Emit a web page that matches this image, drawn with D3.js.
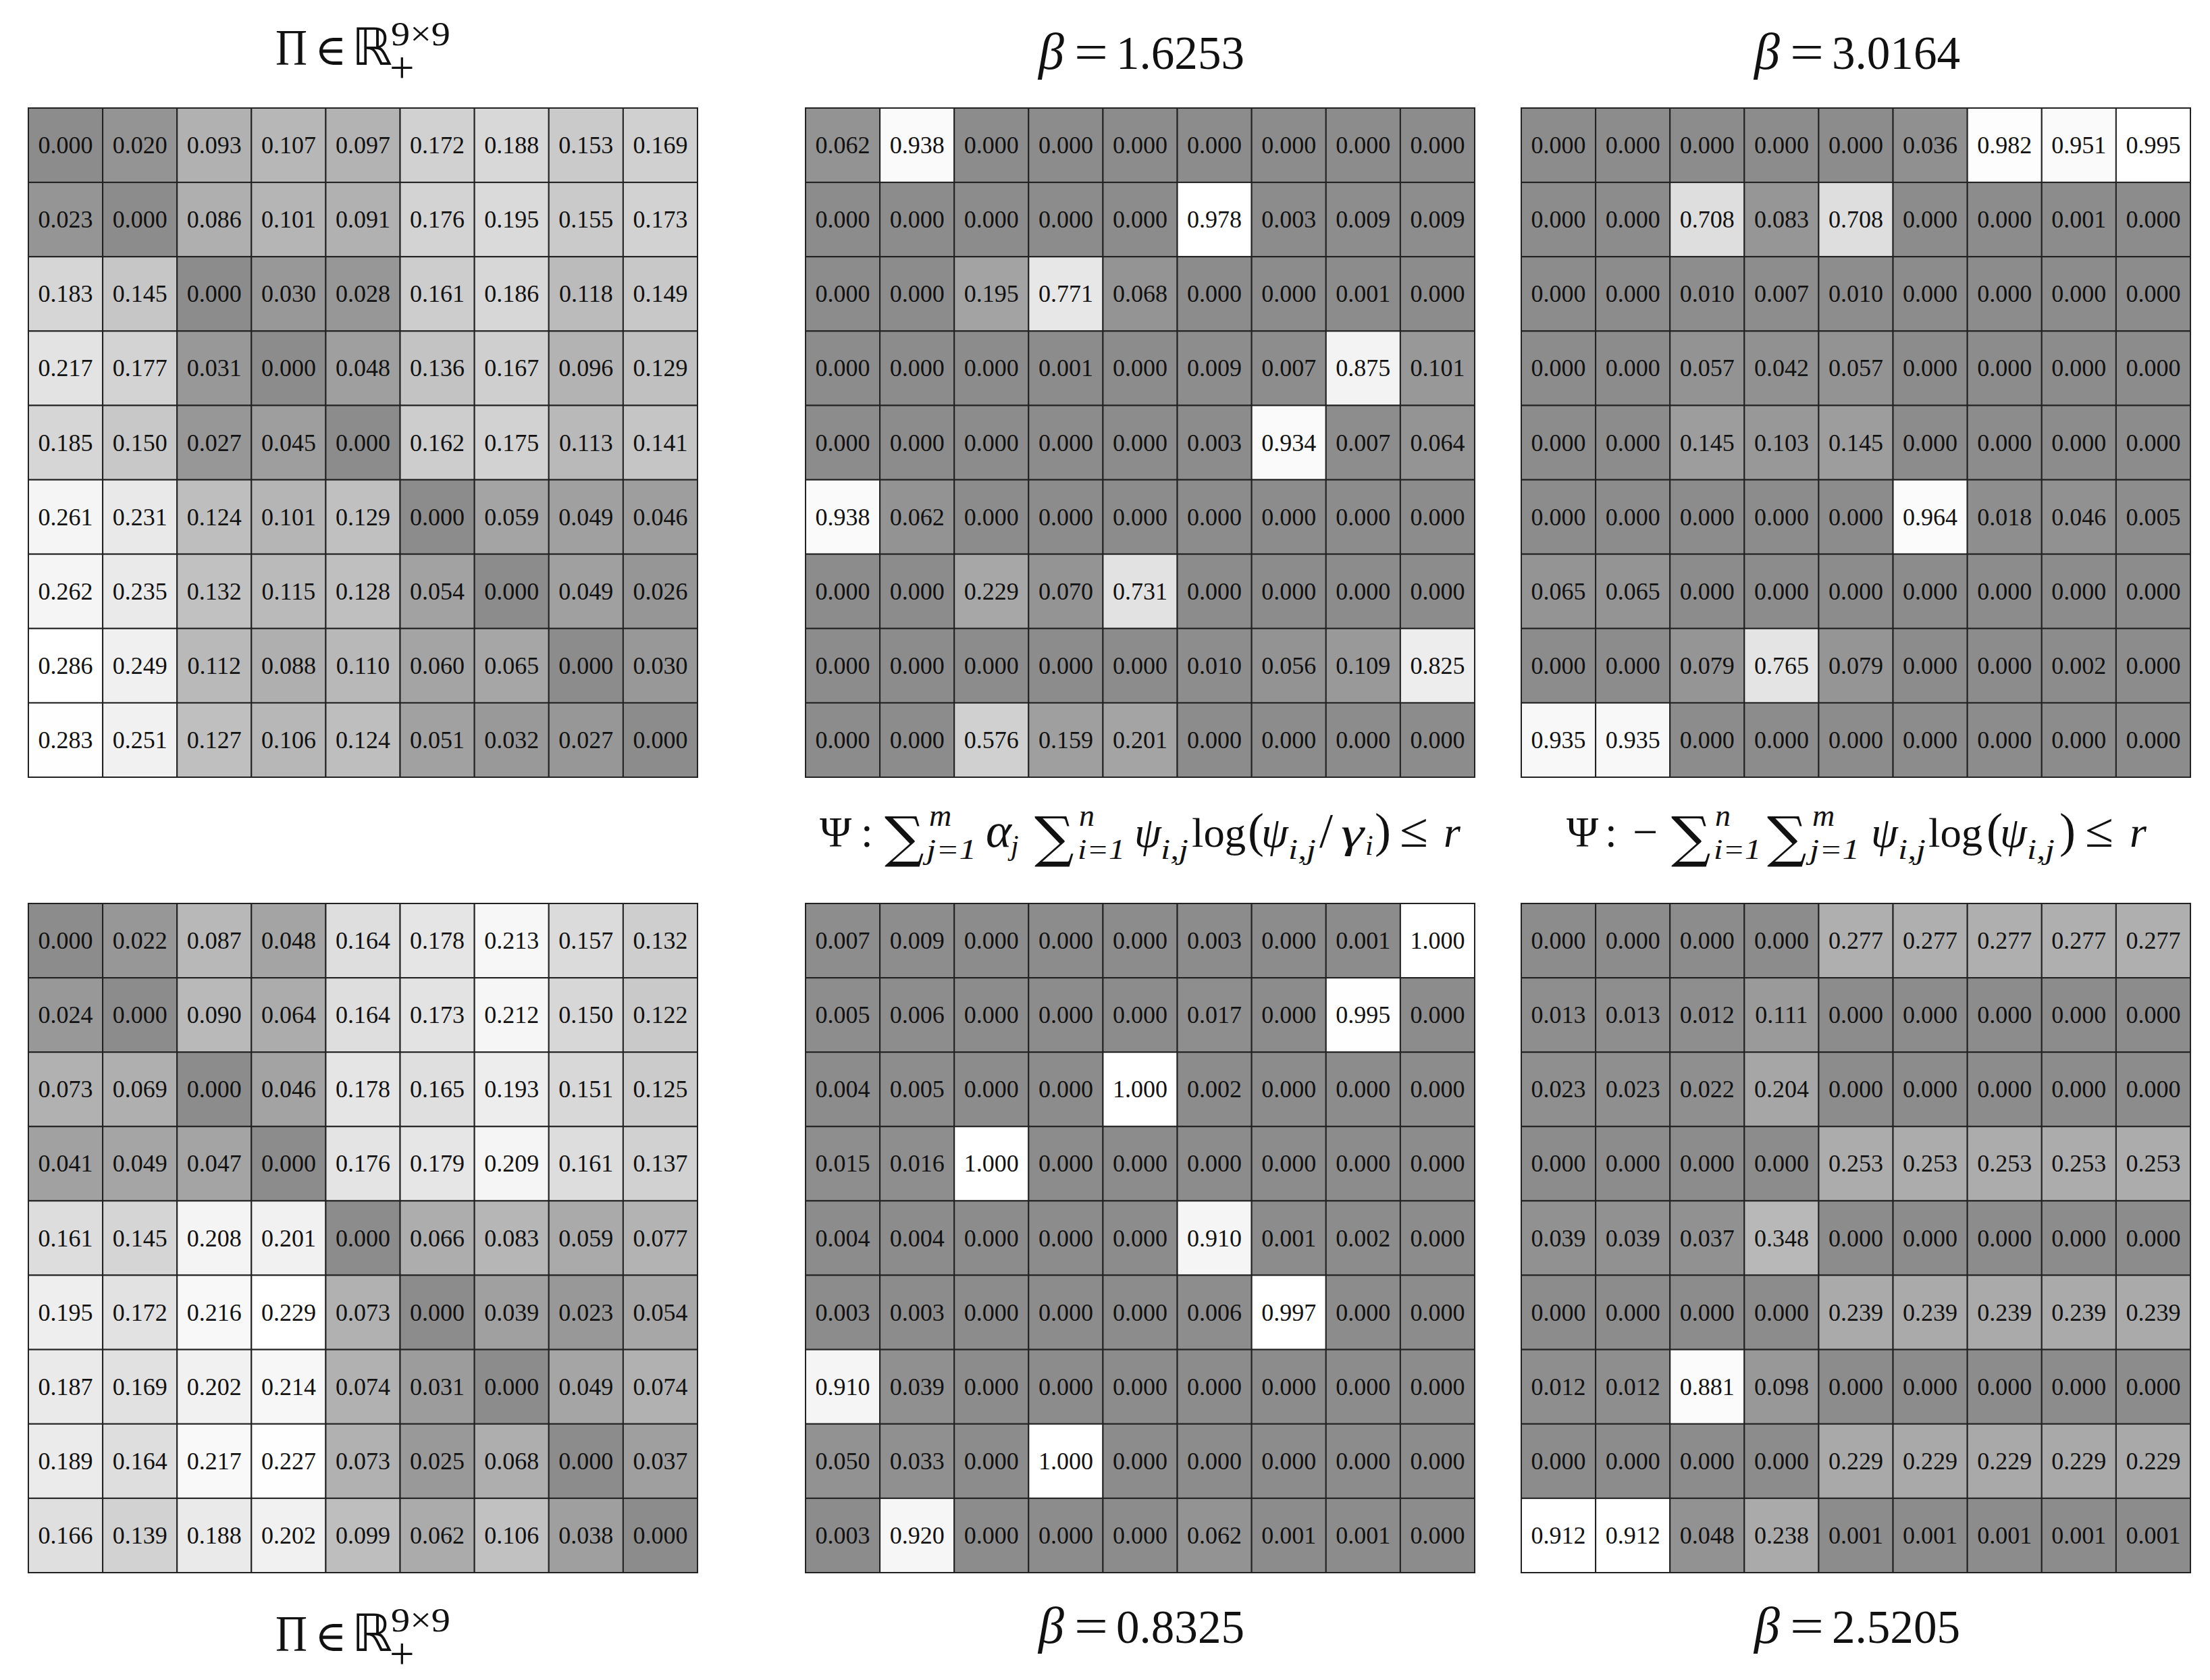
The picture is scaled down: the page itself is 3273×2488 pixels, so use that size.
<!DOCTYPE html>
<html>
<head>
<meta charset="utf-8">
<script src="https://cdn.jsdelivr.net/npm/d3@7"></script>
<style>
  html, body { margin: 0; background: #fff; }
  text { font-family: "Liberation Serif", "DejaVu Serif", serif; fill: #111; }
</style>
</head>
<body>
<svg id="chart" width="3273" height="2488"></svg>
<script>
const labels = [0, 1, 2, 3, 4, 5, 6, 7, 8];

const piTop = [
    [0.000, 0.020, 0.093, 0.107, 0.097, 0.172, 0.188, 0.153, 0.169],
    [0.023, 0.000, 0.086, 0.101, 0.091, 0.176, 0.195, 0.155, 0.173],
    [0.183, 0.145, 0.000, 0.030, 0.028, 0.161, 0.186, 0.118, 0.149],
    [0.217, 0.177, 0.031, 0.000, 0.048, 0.136, 0.167, 0.096, 0.129],
    [0.185, 0.150, 0.027, 0.045, 0.000, 0.162, 0.175, 0.113, 0.141],
    [0.261, 0.231, 0.124, 0.101, 0.129, 0.000, 0.059, 0.049, 0.046],
    [0.262, 0.235, 0.132, 0.115, 0.128, 0.054, 0.000, 0.049, 0.026],
    [0.286, 0.249, 0.112, 0.088, 0.110, 0.060, 0.065, 0.000, 0.030],
    [0.283, 0.251, 0.127, 0.106, 0.124, 0.051, 0.032, 0.027, 0.000]
];
const beta16253 = [
    [0.062, 0.938, 0.000, 0.000, 0.000, 0.000, 0.000, 0.000, 0.000],
    [0.000, 0.000, 0.000, 0.000, 0.000, 0.978, 0.003, 0.009, 0.009],
    [0.000, 0.000, 0.195, 0.771, 0.068, 0.000, 0.000, 0.001, 0.000],
    [0.000, 0.000, 0.000, 0.001, 0.000, 0.009, 0.007, 0.875, 0.101],
    [0.000, 0.000, 0.000, 0.000, 0.000, 0.003, 0.934, 0.007, 0.064],
    [0.938, 0.062, 0.000, 0.000, 0.000, 0.000, 0.000, 0.000, 0.000],
    [0.000, 0.000, 0.229, 0.070, 0.731, 0.000, 0.000, 0.000, 0.000],
    [0.000, 0.000, 0.000, 0.000, 0.000, 0.010, 0.056, 0.109, 0.825],
    [0.000, 0.000, 0.576, 0.159, 0.201, 0.000, 0.000, 0.000, 0.000]
];
const beta30164 = [
    [0.000, 0.000, 0.000, 0.000, 0.000, 0.036, 0.982, 0.951, 0.995],
    [0.000, 0.000, 0.708, 0.083, 0.708, 0.000, 0.000, 0.001, 0.000],
    [0.000, 0.000, 0.010, 0.007, 0.010, 0.000, 0.000, 0.000, 0.000],
    [0.000, 0.000, 0.057, 0.042, 0.057, 0.000, 0.000, 0.000, 0.000],
    [0.000, 0.000, 0.145, 0.103, 0.145, 0.000, 0.000, 0.000, 0.000],
    [0.000, 0.000, 0.000, 0.000, 0.000, 0.964, 0.018, 0.046, 0.005],
    [0.065, 0.065, 0.000, 0.000, 0.000, 0.000, 0.000, 0.000, 0.000],
    [0.000, 0.000, 0.079, 0.765, 0.079, 0.000, 0.000, 0.002, 0.000],
    [0.935, 0.935, 0.000, 0.000, 0.000, 0.000, 0.000, 0.000, 0.000]
];
const piBottom = [
    [0.000, 0.022, 0.087, 0.048, 0.164, 0.178, 0.213, 0.157, 0.132],
    [0.024, 0.000, 0.090, 0.064, 0.164, 0.173, 0.212, 0.150, 0.122],
    [0.073, 0.069, 0.000, 0.046, 0.178, 0.165, 0.193, 0.151, 0.125],
    [0.041, 0.049, 0.047, 0.000, 0.176, 0.179, 0.209, 0.161, 0.137],
    [0.161, 0.145, 0.208, 0.201, 0.000, 0.066, 0.083, 0.059, 0.077],
    [0.195, 0.172, 0.216, 0.229, 0.073, 0.000, 0.039, 0.023, 0.054],
    [0.187, 0.169, 0.202, 0.214, 0.074, 0.031, 0.000, 0.049, 0.074],
    [0.189, 0.164, 0.217, 0.227, 0.073, 0.025, 0.068, 0.000, 0.037],
    [0.166, 0.139, 0.188, 0.202, 0.099, 0.062, 0.106, 0.038, 0.000]
];
const beta08325 = [
    [0.007, 0.009, 0.000, 0.000, 0.000, 0.003, 0.000, 0.001, 1.000],
    [0.005, 0.006, 0.000, 0.000, 0.000, 0.017, 0.000, 0.995, 0.000],
    [0.004, 0.005, 0.000, 0.000, 1.000, 0.002, 0.000, 0.000, 0.000],
    [0.015, 0.016, 1.000, 0.000, 0.000, 0.000, 0.000, 0.000, 0.000],
    [0.004, 0.004, 0.000, 0.000, 0.000, 0.910, 0.001, 0.002, 0.000],
    [0.003, 0.003, 0.000, 0.000, 0.000, 0.006, 0.997, 0.000, 0.000],
    [0.910, 0.039, 0.000, 0.000, 0.000, 0.000, 0.000, 0.000, 0.000],
    [0.050, 0.033, 0.000, 1.000, 0.000, 0.000, 0.000, 0.000, 0.000],
    [0.003, 0.920, 0.000, 0.000, 0.000, 0.062, 0.001, 0.001, 0.000]
];
const beta25205 = [
    [0.000, 0.000, 0.000, 0.000, 0.277, 0.277, 0.277, 0.277, 0.277],
    [0.013, 0.013, 0.012, 0.111, 0.000, 0.000, 0.000, 0.000, 0.000],
    [0.023, 0.023, 0.022, 0.204, 0.000, 0.000, 0.000, 0.000, 0.000],
    [0.000, 0.000, 0.000, 0.000, 0.253, 0.253, 0.253, 0.253, 0.253],
    [0.039, 0.039, 0.037, 0.348, 0.000, 0.000, 0.000, 0.000, 0.000],
    [0.000, 0.000, 0.000, 0.000, 0.239, 0.239, 0.239, 0.239, 0.239],
    [0.012, 0.012, 0.881, 0.098, 0.000, 0.000, 0.000, 0.000, 0.000],
    [0.000, 0.000, 0.000, 0.000, 0.229, 0.229, 0.229, 0.229, 0.229],
    [0.912, 0.912, 0.048, 0.238, 0.001, 0.001, 0.001, 0.001, 0.001]
];

const svg = d3.select("#chart");

// panel origins, every panel is the same size
const cols = [42, 1193, 2253];
const rows = [160, 1338];
const size = 991;

const xBand = d3.scaleBand().domain(labels).range([0, size]);
const yBand = d3.scaleBand().domain(labels).range([0, size]);

function drawMatrix(matrix, left, top) {
    const maxValue = d3.max(matrix.flat());
    const shade = d3.scaleLinear().domain([0, maxValue]).range([140, 255]);

    const panel = svg.append("g").attr("transform", `translate(${left},${top})`);

    const cells = panel.selectAll("g")
        .data(matrix.flatMap((row, r) => row.map((value, c) => ({ r, c, value }))))
        .enter()
        .append("g");

    cells.append("rect")
        .attr("x", d => xBand(d.c))
        .attr("y", d => yBand(d.r))
        .attr("width", xBand.bandwidth())
        .attr("height", yBand.bandwidth())
        .attr("fill", d => d3.rgb(shade(d.value), shade(d.value), shade(d.value)))
        .attr("stroke", "#222")
        .attr("stroke-width", 2);

    cells.append("text")
        .attr("x", d => xBand(d.c) + xBand.bandwidth() / 2)
        .attr("y", d => yBand(d.r) + yBand.bandwidth() / 2 + 12)
        .attr("text-anchor", "middle")
        .attr("font-size", 36)
        .text(d => d.value.toFixed(3));
}

drawMatrix(piTop, cols[0], rows[0]);
drawMatrix(beta16253, cols[1], rows[0]);
drawMatrix(beta30164, cols[2], rows[0]);
drawMatrix(piBottom, cols[0], rows[1]);
drawMatrix(beta08325, cols[1], rows[1]);
drawMatrix(beta25205, cols[2], rows[1]);

// Math is typeset by hand: each part has its own x, baseline offset and size
function mathText(y, parts) {
    const g = svg.append("g");
    parts.forEach(p => {
        const t = g.append("text")
            .attr("x", p.x)
            .attr("y", y + (p.dy || 0))
            .attr("font-size", p.size)
            .attr("font-style", p.i ? "italic" : "normal")
            .text(p.t);
        if (p.font) t.style("font-family", p.font);
        if (p.w) t.attr("textLength", p.w).attr("lengthAdjust", "spacingAndGlyphs");
    });
}

const symbolFont = "'DejaVu Serif'";

function piTitle(y) {
    mathText(y, [
        { t: "Π", x: 408, size: 76, w: 47 },
        { t: "∈", x: 466, size: 64, font: symbolFont },
        { t: "ℝ", x: 521, size: 76, font: "'DejaVu Sans'" },
        { t: "9×9", x: 579, size: 51, dy: -29, w: 88 },
        { t: "+", x: 577, size: 65, dy: 26 }
    ]);
}
piTitle(96);
piTitle(2445);

function betaTitle(x, y, value) {
    mathText(y, [
        { t: "β", x: x, size: 76, i: true },
        { t: "=", x: x + 53, size: 76, w: 50, dy: 1 },
        { t: value, x: x + 115, size: 70, w: 190 }
    ]);
}
betaTitle(1538, 102, "1.6253");
betaTitle(2598, 102, "3.0164");
betaTitle(1538, 2433, "0.8325");
betaTitle(2598, 2433, "2.5205");

function bigSum(x) {
    return { t: "∑", x: x, size: 82, font: symbolFont, dy: 14 };
}
function supScript(t, x) {
    return { t: t, x: x, size: 46, i: true, dy: -31 };
}
function subScript(t, x, w) {
    return { t: t, x: x, size: 42, i: true, dy: 18, w: w };
}

mathText(1254, [
    { t: "Ψ", x: 1214, size: 64 },
    { t: ":", x: 1275, size: 64 },
    bigSum(1310),
    supScript("m", 1376),
    subScript("j=1", 1372, 74),
    { t: "α", x: 1460, size: 72, i: true, w: 38 },
    { t: "j", x: 1497, size: 42, i: true, dy: 12 },
    bigSum(1532),
    supScript("n", 1598),
    subScript("i=1", 1596, 70),
    { t: "ψ", x: 1680, size: 64, i: true },
    subScript("i,j", 1719, 41),
    { t: "log", x: 1765, size: 62, w: 80 },
    { t: "(", x: 1848, size: 72 },
    { t: "ψ", x: 1868, size: 64, i: true },
    subScript("i,j", 1908, 41),
    { t: "/", x: 1954, size: 72 },
    { t: "γ", x: 1986, size: 64, i: true, w: 34 },
    { t: "i", x: 2022, size: 42, i: true, dy: 12 },
    { t: ")", x: 2036, size: 72 },
    { t: "≤", x: 2073, size: 72, w: 42 },
    { t: "r", x: 2138, size: 64, i: true }
]);

mathText(1254, [
    { t: "Ψ", x: 2320, size: 64 },
    { t: ":", x: 2377, size: 64 },
    { t: "−", x: 2418, size: 66 },
    bigSum(2475),
    supScript("n", 2540),
    subScript("i=1", 2538, 70),
    bigSum(2617),
    supScript("m", 2684),
    subScript("j=1", 2680, 74),
    { t: "ψ", x: 2771, size: 64, i: true },
    subScript("i,j", 2811, 41),
    { t: "log", x: 2856, size: 62, w: 80 },
    { t: "(", x: 2942, size: 72 },
    { t: "ψ", x: 2962, size: 64, i: true },
    subScript("i,j", 3002, 41),
    { t: ")", x: 3050, size: 72 },
    { t: "≤", x: 3088, size: 72, w: 42 },
    { t: "r", x: 3154, size: 64, i: true }
]);
</script>
</body>
</html>
